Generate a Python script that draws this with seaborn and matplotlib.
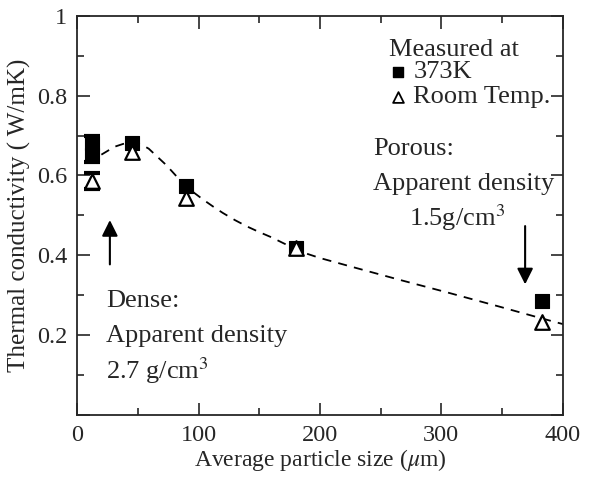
import numpy as np
import pandas as pd
import matplotlib
matplotlib.use('Agg')
import matplotlib.pyplot as plt
import seaborn as sns

# values
size_373k = [12, 12, 45, 90, 180, 383]
cond_373k = [0.680, 0.652, 0.681, 0.574, 0.418, 0.284]

size_room = [12, 45, 90, 180, 383]
cond_room = [0.585, 0.659, 0.543, 0.418, 0.232]

# error bars at the smallest size
err_373k_mid, err_373k = 0.666, 0.033
err_room_mid, err_room = 0.585, 0.02

# dashed guide curve (read points)
curve_x = [20, 26, 31, 38, 45, 52, 59, 66, 72, 77, 83, 90, 97, 104, 112, 120, 130, 140,
           150, 160, 170, 181, 190, 200, 225, 266, 307, 348, 381, 403]
curve_y = [0.652, 0.663, 0.672, 0.679, 0.683, 0.679, 0.667, 0.647, 0.630, 0.614, 0.594,
           0.572, 0.555, 0.539, 0.522, 0.506, 0.488, 0.472, 0.458, 0.445, 0.430, 0.414,
           0.403, 0.393, 0.372, 0.338, 0.305, 0.271, 0.243, 0.225]

x_ticks = [0, 100, 200, 300, 400]
y_ticks = [0, 0.2, 0.4, 0.6, 0.8, 1.0]
y_tick_labels = ['', '0.2', '0.4', '0.6', '0.8', '1']

sns.set_style('ticks')
plt.rcParams['font.family'] = ['Liberation Serif', 'DejaVu Serif']
plt.rcParams['mathtext.fontset'] = 'stix'

fig = plt.figure(figsize=(5.93, 4.79), dpi=100)
ax = fig.add_axes([0.130, 0.134, 0.819, 0.833])

curve = pd.DataFrame({'x': curve_x, 'y': curve_y})
sns.lineplot(data=curve, x='x', y='y', ax=ax, color='black', linestyle=(0, (5, 4)),
             linewidth=1.3)

ax.errorbar([size_373k[0]], [err_373k_mid], yerr=[err_373k],
            fmt='none', ecolor='black', elinewidth=2, capsize=6, capthick=3)
ax.errorbar([size_room[0]], [err_room_mid], yerr=[err_room],
            fmt='none', ecolor='black', elinewidth=2, capsize=6, capthick=3)

sns.scatterplot(x=size_373k, y=cond_373k, ax=ax, marker='s', s=100, color='black',
                edgecolor='black', zorder=5)
sns.scatterplot(x=size_room, y=cond_room, ax=ax, marker='^', s=110, color='white',
                edgecolor='black', linewidth=1.6, zorder=6)

ax.set_xlim(0, 400)
ax.set_ylim(0, 1)
ax.set_xticks(x_ticks)
ax.set_xticks([50, 150, 250, 350], minor=True)
ax.set_yticks(y_ticks)
ax.set_yticklabels(y_tick_labels)
ax.set_yticks([0.1, 0.3, 0.5, 0.7, 0.9], minor=True)
ax.tick_params(which='both', direction='in', top=True, right=True, labelsize=17.5,
               width=1.2, pad=7)
ax.tick_params(which='major', length=9)
ax.tick_params(which='minor', length=5)
for sp in ax.spines.values():
    sp.set_linewidth(1.3)

ax.set_xlabel(r'Average particle size ($\mu$m)', fontsize=17, labelpad=1)
ax.set_ylabel('Thermal conductivity ( W/mK)', fontsize=18, labelpad=4)

fs = 19
# legend drawn by hand like the original
ax.text(257, 0.915, 'Measured at', fontsize=fs, va='center')
ax.scatter([264], [0.859], marker='s', s=60, color='black')
ax.text(277, 0.859, '373K', fontsize=fs, va='center')
ax.scatter([264], [0.797], marker='^', s=60, facecolor='white', edgecolor='black', linewidth=1.3)
ax.text(277, 0.797, 'Room Temp.', fontsize=fs, va='center')

ax.text(244, 0.665, 'Porous:', fontsize=fs, va='center')
ax.text(244, 0.578, 'Apparent density', fontsize=fs, va='center')
ax.text(273, 0.495, r'1.5g/cm$^3$', fontsize=fs, va='center')

ax.text(24, 0.285, 'Dense:', fontsize=fs, va='center')
ax.text(24, 0.198, 'Apparent density', fontsize=fs, va='center')
ax.text(24, 0.110, r'2.7 g/cm$^3$', fontsize=fs, va='center')

ax.annotate('', xy=(27, 0.495), xytext=(27, 0.37),
            arrowprops=dict(arrowstyle='-|>', color='black', lw=1.5, mutation_scale=24))
ax.annotate('', xy=(369, 0.32), xytext=(369, 0.48),
            arrowprops=dict(arrowstyle='-|>', color='black', lw=1.5, mutation_scale=24))

fig.savefig('out.png', dpi=100)
